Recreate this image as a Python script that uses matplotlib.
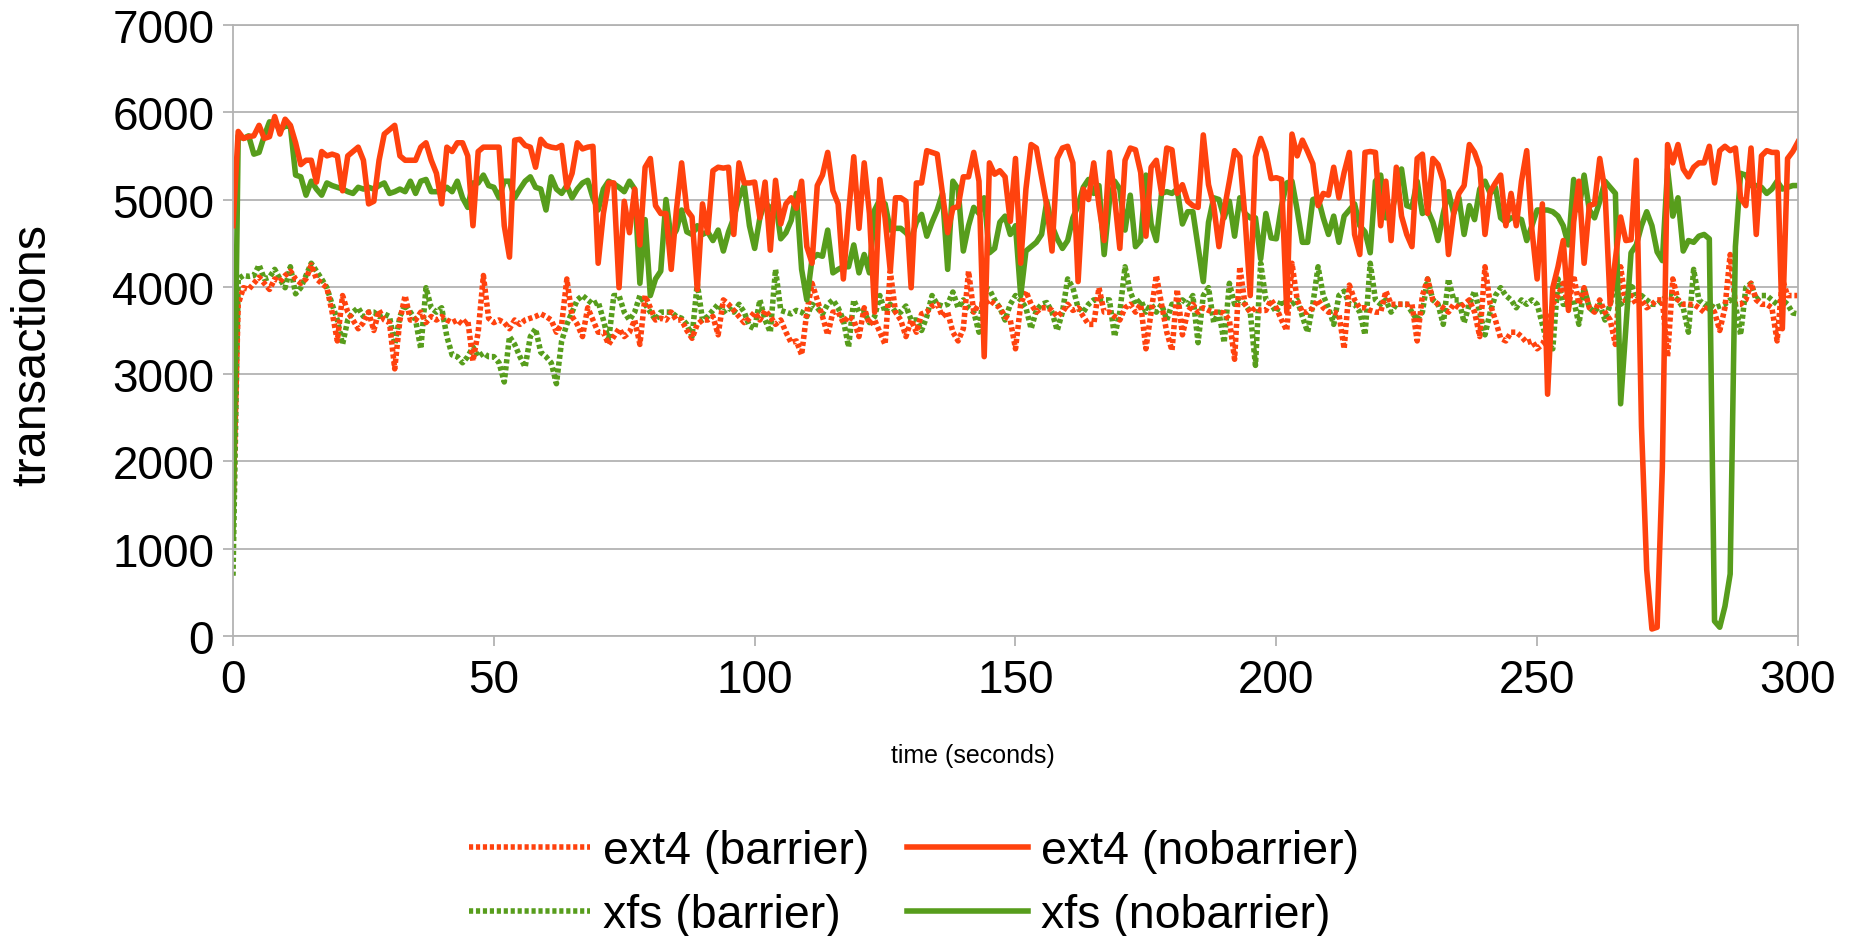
import numpy as np
import matplotlib
matplotlib.use('Agg')
import matplotlib.pyplot as plt

plt.rcParams['font.family'] = ['Liberation Sans', 'DejaVu Sans']

# seconds 0..300, one sample per second
t = np.arange(0, 301)

ext4_nobarrier = [
    4700, 5780, 5700, 5720, 5730, 5850, 5700, 5720, 5950, 5750,
    5920, 5850, 5650, 5400, 5450, 5450, 5200, 5550, 5500, 5520,
    5500, 5100, 5500, 5550, 5600, 5450, 4950, 4980, 5450, 5750,
    5800, 5850, 5500, 5450, 5450, 5450, 5600, 5650, 5450, 5300,
    4950, 5600, 5550, 5650, 5650, 5500, 4700, 5550, 5600, 5600,
    5600, 5600, 4700, 4340, 5680, 5690, 5620, 5600, 5370, 5690,
    5620, 5600, 5590, 5620, 5140, 5300, 5650, 5580, 5600, 5610,
    4270, 4840, 5190, 5190, 3990, 4980, 4620, 5120, 4480, 5370,
    5470, 4930, 4840, 4840, 4200, 4880, 5420, 4880, 4800, 3970,
    4950, 4620, 5330, 5370, 5360, 5370, 4600, 5420, 5190, 5190,
    5200, 4790, 5200, 4420, 5220, 4720, 4950, 5020, 4900, 5210,
    4460, 4270, 5160, 5280, 5540, 5100, 4950, 4090, 4840, 5490,
    4670, 5420, 4840, 3710, 5230, 4790, 4180, 5020, 5020, 4980,
    3990, 5190, 5190, 5560, 5540, 5520, 5070, 4620, 4900, 4920,
    5260, 5260, 5540, 5210, 3200, 5420, 5290, 5330, 5260, 4750,
    5470, 4270, 5120, 5630, 5590, 5260, 4930, 4410, 5470, 5590,
    5610, 5420, 4060, 5120, 5000, 5420, 4930, 4530, 5540, 5020,
    4440, 5450, 5590, 5570, 5310, 4580, 5370, 5450, 5070, 5590,
    5570, 5070, 5170, 4980, 4930, 4910, 5740, 5170, 4930, 4460,
    4880, 5210, 5560, 5490, 4790, 3900, 5490, 5700, 5540, 5240,
    5250, 5230, 3710, 5750, 5500, 5680, 5550, 5410, 4930, 5070,
    5050, 5370, 5020, 5310, 5540, 4600, 4370, 5540, 5550, 5540,
    4700, 5210, 4530, 5370, 4810, 4600, 4460, 5470, 5520, 4840,
    5470, 5400, 5210, 4370, 4840, 5070, 5160, 5630, 5540, 5370,
    4600, 5090, 5190, 5280, 4700, 5070, 4700, 5210, 5560, 4650,
    4090, 4950, 2770, 3990, 4230, 4530, 3730, 4740, 5210, 4270,
    4930, 4950, 5470, 5100, 3800, 4320, 4800, 4530, 4540, 5450,
    2400, 760, 80, 100, 1930, 5630, 5420, 5630, 5350, 5260,
    5370, 5420, 5420, 5610, 5190, 5560, 5610, 5560, 5590, 5020,
    4930, 5590, 4600, 5500, 5560, 5540, 5540, 3520, 5470, 5550, 5660]

xfs_nobarrier = [
    1130, 5730, 5700, 5730, 5520, 5540, 5730, 5890, 5880, 5800,
    5840, 5840, 5280, 5260, 5050, 5210, 5120, 5050, 5190, 5160,
    5140, 5120, 5090, 5070, 5140, 5120, 5140, 5120, 5160, 5190,
    5070, 5090, 5120, 5090, 5210, 5070, 5210, 5230, 5090, 5090,
    5090, 5140, 5090, 5210, 5020, 4910, 5190, 5190, 5280, 5160,
    5140, 5020, 5210, 5210, 5020, 5120, 5210, 5260, 5140, 5120,
    4880, 5260, 5120, 5070, 5160, 5020, 5120, 5190, 5220, 5020,
    4880, 5120, 5210, 5180, 5140, 5090, 5210, 5120, 4040, 4770,
    3900, 4090, 4180, 5000, 4550, 4650, 4880, 4630, 4600, 4700,
    4600, 4630, 4530, 4650, 4410, 4630, 4790, 5020, 5160, 4700,
    4440, 4790, 4980, 4880, 4980, 4550, 4620, 4760, 5070, 4200,
    3850, 4320, 4370, 4350, 4650, 4160, 4200, 4230, 4230, 4480,
    4160, 4370, 4160, 4880, 5000, 4950, 4650, 4670, 4670, 4620,
    4550, 4740, 4830, 4580, 4740, 4880, 5070, 4200, 5210, 5120,
    4410, 4700, 4910, 4840, 5020, 4390, 4440, 4740, 4810, 4600,
    4700, 3900, 4410, 4460, 4510, 4600, 4980, 4700, 4550, 4440,
    4530, 4790, 4930, 5140, 5230, 5070, 5160, 4370, 4980, 5210,
    5120, 4650, 5050, 4460, 4530, 5280, 4720, 4530, 5070, 5090,
    5070, 5120, 4720, 4860, 4860, 4460, 4060, 4740, 5020, 5000,
    4790, 4980, 4580, 5020, 4840, 4790, 4790, 4320, 4840, 4560,
    4550, 4930, 5190, 5210, 4880, 4510, 4510, 5000, 5020, 4790,
    4600, 4810, 4510, 4810, 4880, 4950, 4700, 4630, 4390, 5210,
    5280, 4790, 4840, 5070, 5350, 4930, 4910, 5210, 4840, 4880,
    4740, 4530, 4840, 5090, 4840, 5020, 4600, 4930, 4770, 5120,
    5210, 5070, 5140, 4790, 4740, 4790, 4790, 4770, 4530, 4700,
    4880, 4880, 4880, 4860, 4810, 4700, 4480, 5230, 4880, 5280,
    4880, 4790, 4980, 5210, 5140, 5070, 2660, 3520, 4390, 4480,
    4700, 4860, 4700, 4400, 4300, 5350, 4810, 5020, 4410, 4530,
    4510, 4580, 4600, 4550, 170, 100, 340, 710, 4460, 5300,
    5280, 5160, 5160, 5140, 5070, 5120, 5210, 5120, 5140, 5160, 5160]

ext4_barrier = [
    1450, 3800, 3990, 3970, 4040, 4110, 4040, 3970, 4090, 4060,
    4130, 4180, 4090, 4040, 4090, 4250, 4090, 4040, 3990, 3710,
    3380, 3900, 3710, 3620, 3520, 3590, 3710, 3500, 3730, 3620,
    3590, 3060, 3620, 3900, 3620, 3620, 3710, 3590, 3660, 3620,
    3660, 3620, 3590, 3620, 3570, 3620, 3150, 3480, 4130, 3640,
    3590, 3620, 3590, 3520, 3620, 3570, 3620, 3640, 3660, 3690,
    3660, 3620, 3480, 3570, 4090, 3660, 3570, 3430, 3760, 3620,
    3480, 3480, 3340, 3430, 3520, 3430, 3480, 3620, 3340, 3900,
    3760, 3620, 3640, 3620, 3710, 3620, 3620, 3500, 3410, 3570,
    3620, 3620, 3660, 3450, 3850, 3800, 3730, 3660, 3590, 3640,
    3710, 3620, 3730, 3660, 3570, 3620, 3480, 3360, 3380, 3220,
    3710, 4040, 3850, 3660, 3450, 3710, 3710, 3590, 3660, 3620,
    3430, 3760, 3570, 3620, 3480, 3340, 4180, 3710, 3620, 3430,
    3620, 3480, 3690, 3710, 3780, 3800, 3660, 3710, 3480, 3380,
    3520, 4180, 3710, 3800, 3800, 3850, 3800, 3760, 3660, 3620,
    3290, 3800, 3950, 3800, 3710, 3760, 3760, 3730, 3660, 3710,
    3800, 3730, 3760, 3660, 3570, 3570, 3990, 3710, 3710, 3660,
    3620, 3760, 3800, 3710, 3800, 3290, 3710, 4130, 3800, 3480,
    3270, 3970, 3450, 3710, 3800, 3710, 3760, 3730, 3710, 3710,
    3700, 3620, 3170, 4230, 3800, 3710, 3760, 3730, 3730, 3850,
    3760, 3620, 3500, 4270, 3850, 3710, 3710, 3760, 3850, 3760,
    3710, 3710, 3690, 3290, 4020, 3850, 3760, 3760, 3730, 3710,
    3710, 3950, 3800, 3800, 3800, 3800, 3800, 3380, 3900, 4090,
    3850, 3800, 3760, 3710, 3800, 3760, 3800, 3850, 3710, 3430,
    4230, 3800, 3620, 3410, 3380, 3480, 3480, 3430, 3360, 3380,
    3290, 3340, 3480, 3800, 3900, 4040, 3760, 4130, 3800, 3990,
    3760, 3710, 3850, 3710, 3620, 3340, 4230, 3800, 3900, 3800,
    3850, 3760, 3800, 3850, 3850, 3200, 4090, 3850, 3800, 3800,
    3800, 3760, 3710, 3800, 3710, 3500, 3760, 4370, 3800, 3800,
    3850, 4040, 3850, 3800, 3800, 3760, 3380, 4090, 3900, 3900, 3900]

xfs_barrier = [
    690, 4090, 4130, 4120, 4130, 4250, 4090, 4110, 4200, 4090,
    3990, 4230, 3920, 3990, 4130, 4270, 4180, 4090, 3990, 3800,
    3620, 3340, 3620, 3710, 3760, 3660, 3710, 3710, 3660, 3690,
    3660, 3340, 3660, 3800, 3710, 3620, 3290, 3990, 3760, 3710,
    3760, 3430, 3220, 3200, 3130, 3200, 3310, 3200, 3240, 3200,
    3200, 3130, 2910, 3430, 3340, 3200, 3080, 3430, 3520, 3250,
    3200, 3130, 2890, 3380, 3570, 3710, 3850, 3900, 3850, 3800,
    3830, 3620, 3380, 3900, 3900, 3710, 3620, 3710, 3900, 3800,
    3710, 3620, 3710, 3710, 3710, 3660, 3640, 3570, 3430, 4040,
    3620, 3660, 3730, 3800, 3710, 3760, 3710, 3800, 3710, 3550,
    3520, 3850, 3620, 3480, 4200, 3730, 3710, 3690, 3730, 3710,
    3660, 3800, 3760, 3690, 3800, 3850, 3760, 3620, 3310, 3850,
    3710, 3710, 3590, 3660, 3900, 3710, 3800, 3710, 3710, 3780,
    3620, 3620, 3500, 3660, 3900, 3800, 3780, 3800, 3940, 3760,
    3850, 3760, 3710, 3480, 3990, 3970, 3850, 3760, 3620, 3800,
    3900, 3850, 3760, 3520, 3730, 3800, 3820, 3710, 3500, 3710,
    4090, 3990, 3760, 3710, 3800, 3850, 3850, 3850, 3850, 3430,
    3710, 4230, 3940, 3800, 3850, 3710, 3800, 3710, 3800, 3620,
    3800, 3800, 3850, 3800, 3900, 3360, 3900, 3990, 3590, 3710,
    3360, 4040, 3800, 3850, 3800, 3710, 3100, 4270, 3850, 3800,
    3710, 3850, 3760, 3800, 3850, 3660, 3480, 3800, 4230, 3900,
    3760, 3570, 3900, 3950, 3800, 3800, 3710, 3450, 4270, 3850,
    3800, 3850, 3710, 3800, 3800, 3800, 3710, 3620, 3710, 4090,
    3850, 3800, 3570, 4090, 3850, 3850, 3590, 3800, 3950, 3710,
    3450, 3710, 3900, 3990, 3900, 3850, 3760, 3850, 3800, 3850,
    3800, 3570, 3340, 3290, 4090, 3800, 3800, 3850, 3570, 3990,
    3760, 3710, 3800, 3620, 3800, 4040, 3800, 3850, 4040, 3850,
    3900, 3850, 3800, 3800, 3850, 3900, 3900, 3850, 3760, 3480,
    4200, 3850, 3800, 3800, 3760, 3780, 3800, 3850, 3800, 3450,
    3990, 4040, 3850, 3900, 3900, 3850, 3800, 3850, 3800, 3700, 3690]

RED = '#ff420e'
GREEN = '#579d1c'
GRID = '#b3b3b3'
dotted = (0, (0.75, 0.5))

fig = plt.figure(figsize=(18.58, 9.37), dpi=100)
ax = fig.add_axes([0.1254, 0.3202, 0.8423, 0.6521])

l_xb, = ax.plot(t, xfs_barrier, color=GREEN, lw=4.0, ls=dotted, dash_capstyle='butt')
l_eb, = ax.plot(t, ext4_barrier, color=RED, lw=4.0, ls=dotted, dash_capstyle='butt')
l_xn, = ax.plot(t, xfs_nobarrier, color=GREEN, lw=4.0, solid_joinstyle='round')
l_en, = ax.plot(t, ext4_nobarrier, color=RED, lw=4.0, solid_joinstyle='round')

ax.set_xlim(0, 300)
ax.set_ylim(0, 7000)
ax.set_xticks(np.arange(0, 301, 50))
ax.set_yticks(np.arange(0, 7001, 1000))
ax.yaxis.grid(True, color=GRID, lw=1.3)
ax.set_axisbelow(True)
for s in ax.spines.values():
    s.set_color(GRID)
    s.set_linewidth(1.3)
ax.tick_params(axis='both', direction='out', length=7, width=1.3, color=GRID,
               labelsize=33, labelcolor='black')
ax.tick_params(axis='x', pad=9)
ax.tick_params(axis='y', pad=6.5)

fig.text(0.0178, 0.621, 'transactions', rotation=90, fontsize=35,
         ha='center', va='center')
fig.text(0.5237, 0.193, 'time (seconds)', fontsize=18, ha='center', va='center')

leg = fig.legend([l_eb, l_xb, l_en, l_xn],
                 ['ext4 (barrier)', 'xfs (barrier)', 'ext4 (nobarrier)', 'xfs (nobarrier)'],
                 ncol=2, loc='center', bbox_to_anchor=(0.492, 0.0565), frameon=False,
                 fontsize=33.5, handlelength=2.6, handletextpad=0.28,
                 columnspacing=0.8, labelspacing=0.42)

fig.savefig('out.png', dpi=100)
